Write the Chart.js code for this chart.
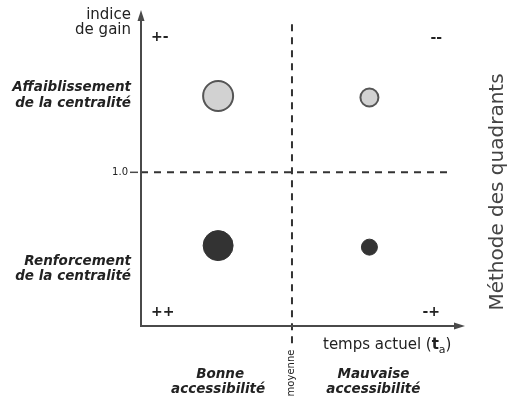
<!DOCTYPE html>
<html>
<head>
<meta charset="utf-8">
<script src="https://cdn.jsdelivr.net/npm/chart.js@4/dist/chart.umd.min.js"></script>
<style>
  html,body{margin:0;padding:0;background:#fff;}
  #wrap{width:507px;height:399px;}
</style>
</head>
<body>
<div id="wrap"><canvas id="quad" width="507" height="399"></canvas></div>
<script>
// ── Méthode des quadrants : indice de gain vs temps actuel ──

// bubbles: [haut-gauche, haut-droite, bas-gauche, bas-droite]
const tempsActuel = [2.38, 7.05, 2.38, 7.05];
const indiceGain  = [1.50, 1.49, 0.52, 0.51];
const rayon       = [15, 9, 15, 8];

const seuilGain   = 1.0;        // ligne horizontale
const moyenne     = 4.66;       // ligne verticale (temps moyen)
const yTicks      = ['1.0'];
const xRange      = [0, 10];
const yRange      = [0, 2.05];
const seuilSpan   = [0, 9.6];   // étendue de la ligne 1.0
const moyenneSpan = [-0.12, 1.975];

const quadrantSigns = ['+-', '--', '++', '-+'];
const yLabels = [['Affaiblissement','de la centralité'],['Renforcement','de la centralité']];
const xLabels = [['Bonne','accessibilité'],['Mauvaise','accessibilité']];

const pts = idx => idx.map(i=>({x:tempsActuel[i], y:indiceGain[i], r:rayon[i]}));

const FONT = "'DejaVu Sans', sans-serif";
const INK = '#222';

const decor = {
  id:'decor',
  afterDraw(chart){
    const {ctx, chartArea:a, scales:{x,y}} = chart;
    ctx.save();
    // axes
    ctx.strokeStyle = '#4a4a4a';
    ctx.fillStyle = '#4a4a4a';
    ctx.lineWidth = 2;
    ctx.beginPath();
    ctx.moveTo(a.left, a.bottom+1); ctx.lineTo(a.left, a.top+6);
    ctx.moveTo(a.left-1, a.bottom+1); ctx.lineTo(a.right-6, a.bottom+1);
    ctx.stroke();
    ctx.beginPath(); // arrow y
    ctx.moveTo(a.left, a.top-2); ctx.lineTo(a.left-3.5, a.top+9); ctx.lineTo(a.left+3.5, a.top+9); ctx.closePath(); ctx.fill();
    ctx.beginPath(); // arrow x
    ctx.moveTo(a.right, a.bottom+1); ctx.lineTo(a.right-11, a.bottom-2.5); ctx.lineTo(a.right-11, a.bottom+4.5); ctx.closePath(); ctx.fill();

    // 1.0 tick
    const y1 = y.getPixelForValue(seuilGain);
    ctx.lineWidth = 1.5;
    ctx.beginPath(); ctx.moveTo(a.left-11, y1); ctx.lineTo(a.left-3, y1); ctx.stroke();
    ctx.fillStyle = INK;
    ctx.font = '10px '+FONT;
    ctx.textAlign = 'right'; ctx.textBaseline = 'middle';
    ctx.fillText(yTicks[0], a.left-13, y1);

    // titre axe y
    ctx.font = '15px '+FONT;
    ctx.textBaseline = 'alphabetic';
    ctx.fillText('indice', a.left-10, 19);
    ctx.fillText('de gain', a.left-10, 34);

    // libellés y
    ctx.font = 'italic bold 13.5px '+FONT;
    const yTop = y.getPixelForValue(indiceGain[0]);
    const yBot = y.getPixelForValue(indiceGain[2]);
    ctx.fillText(yLabels[0][0], a.left-10, yTop-5);
    ctx.fillText(yLabels[0][1], a.left-10, yTop+11);
    ctx.fillText(yLabels[1][0], a.left-10, yBot+19);
    ctx.fillText(yLabels[1][1], a.left-10, yBot+34);

    // signes des quadrants
    ctx.font = 'bold 14px '+FONT;
    ctx.textAlign = 'left';
    ctx.fillText(quadrantSigns[0], a.left+10, 41);
    ctx.fillText(quadrantSigns[2], a.left+10, a.bottom-9);
    ctx.textAlign = 'right';
    ctx.fillText(quadrantSigns[1], a.right-23, 42);
    ctx.fillText(quadrantSigns[3], a.right-25, a.bottom-9);

    // titre axe x
    ctx.font = '15px '+FONT;
    ctx.textAlign = 'left';
    let tx = 323;
    const ty = 349;
    ctx.fillText('temps actuel (', tx, ty);
    tx += ctx.measureText('temps actuel (').width;
    ctx.font = 'bold 15px '+FONT;
    ctx.fillText('t', tx, ty);
    tx += ctx.measureText('t').width;
    ctx.font = '11px '+FONT;
    ctx.fillText('a', tx, ty+4);
    tx += ctx.measureText('a').width;
    ctx.font = '15px '+FONT;
    ctx.fillText(')', tx, ty);

    // libellés x
    ctx.font = 'italic bold 13.5px '+FONT;
    ctx.textAlign = 'center';
    const xl = x.getPixelForValue(tempsActuel[0]);
    const xr = x.getPixelForValue(tempsActuel[1]) + 4;
    ctx.fillText(xLabels[0][0], xl+2, 378);
    ctx.fillText(xLabels[0][1], xl, 393);
    ctx.fillText(xLabels[1][0], xr, 378);
    ctx.fillText(xLabels[1][1], xr, 393);

    // moyenne (vertical)
    const xm = x.getPixelForValue(moyenne);
    ctx.save();
    ctx.translate(xm-1, 373);
    ctx.rotate(-Math.PI/2);
    ctx.font = '10px '+FONT;
    ctx.textAlign = 'center'; ctx.textBaseline = 'middle';
    ctx.fillText('moyenne', 0, 0);
    ctx.restore();

    // titre latéral
    ctx.save();
    ctx.translate(498, 192);
    ctx.rotate(-Math.PI/2);
    ctx.font = '20px '+FONT;
    ctx.fillStyle = '#444';
    ctx.textAlign = 'center'; ctx.textBaseline = 'middle';
    ctx.fillText('Méthode des quadrants', 0, 0);
    ctx.restore();

    ctx.restore();
  }
};

new Chart(document.getElementById('quad').getContext('2d'), {
  type:'bubble',
  data:{datasets:[
    {type:'line', label:'seuil', data:seuilSpan.map(v=>({x:v, y:seuilGain})),
     borderColor:'#333', borderWidth:2, borderDash:[7,6], pointRadius:0, clip:false, order:3},
    {type:'line', label:'moyenne', data:moyenneSpan.map(v=>({x:moyenne, y:v})),
     borderColor:'#333', borderWidth:2, borderDash:[7,6], pointRadius:0, clip:false, order:3},
    {label:'Affaiblissement', data:pts([0,1]), backgroundColor:'#d2d2d2', borderColor:'#555', borderWidth:2, order:1},
    {label:'Renforcement', data:pts([2,3]), backgroundColor:'#333', borderColor:'#333', borderWidth:1, order:1},
  ]},
  options:{
    responsive:false, animation:false,
    layout:{padding:{left:141, top:12, right:42, bottom:74}, autoPadding:false},
    plugins:{legend:{display:false}, tooltip:{enabled:false}},
    scales:{
      x:{type:'linear', min:xRange[0], max:xRange[1], display:false},
      y:{type:'linear', min:yRange[0], max:yRange[1], display:false},
    },
  },
  plugins:[decor],
});
</script>
</body>
</html>
